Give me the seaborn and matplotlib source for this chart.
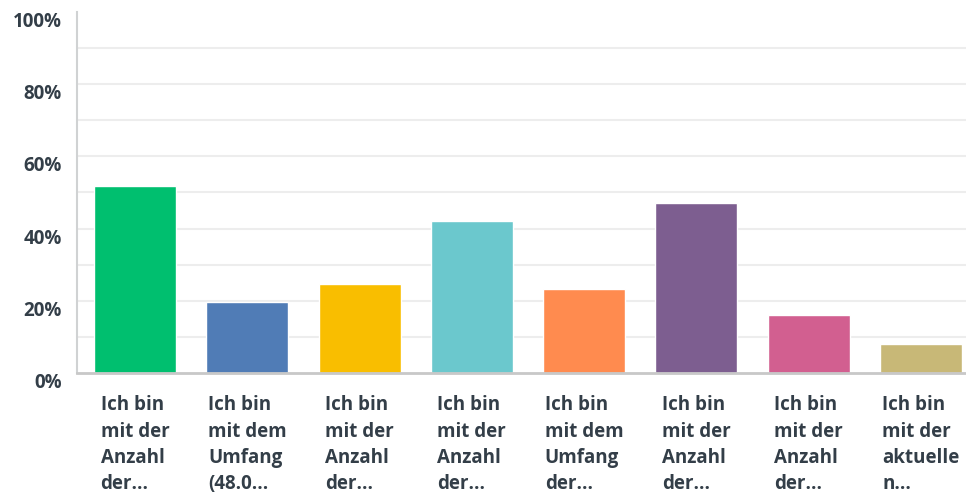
import numpy as np
import pandas as pd
import seaborn as sns
import matplotlib.pyplot as plt

# Survey answers (truncated labels as shown) and share of respondents in %
labels = [
    "Ich bin\nmit der\nAnzahl\nder...",
    "Ich bin\nmit dem\nUmfang\n(48.0...",
    "Ich bin\nmit der\nAnzahl\nder...",
    "Ich bin\nmit der\nAnzahl\nder...",
    "Ich bin\nmit dem\nUmfang\nder...",
    "Ich bin\nmit der\nAnzahl\nder...",
    "Ich bin\nmit der\nAnzahl\nder...",
    "Ich bin\nmit der\naktuelle\nn...",
]
values = [51.9, 19.7, 24.7, 42.2, 23.3, 47.2, 16.1, 8.1]
colors = ['#00BF6F', '#507CB6', '#F9BE00', '#6BC8CD',
          '#FF8B4F', '#7D5E90', '#D25F90', '#C8B877']
yticks = [0, 20, 40, 60, 80, 100]

TEXT = '#333E48'

sns.set_style('white')
plt.rcParams['font.family'] = ['Open Sans', 'DejaVu Sans']

df = pd.DataFrame({'pos': [str(i) for i in range(len(values))], 'value': values})

fig = plt.figure(figsize=(9.66, 4.94), dpi=100)
ax = fig.add_axes([77 / 966, 121 / 494, 889 / 966, 361 / 494])

sns.barplot(data=df, x='pos', y='value', hue='pos', palette=colors,
            width=0.73, saturation=1, legend=False, ax=ax, zorder=3)

# light grid every 10 %
for y in range(10, 100, 10):
    ax.axhline(y, color='#EDEDED', lw=1.5, zorder=1)

ax.set_xlim(-0.516, 7.40)
ax.set_ylim(0, 100)
ax.set_yticks(yticks)
ax.set_yticklabels([f'{t}%' for t in yticks])
ax.set_xticks(range(len(labels)))
ax.set_xticklabels(labels, multialignment='left', linespacing=1.42)
ax.set_xlabel('')
ax.set_ylabel('')

ax.tick_params(axis='x', length=0, pad=16, labelsize=13.5, labelcolor=TEXT)
ax.tick_params(axis='y', length=0, pad=11, labelsize=13.5, labelcolor=TEXT)
for lab in ax.get_xticklabels() + ax.get_yticklabels():
    lab.set_fontweight('bold')
for lab in ax.get_yticklabels():
    lab.set_verticalalignment('top')

sns.despine(ax=ax, top=True, right=True)
ax.spines['left'].set_color('#D0D2D3')
ax.spines['left'].set_linewidth(1.5)
ax.spines['bottom'].set_color('#C8C8C8')
ax.spines['bottom'].set_linewidth(2)
ax.spines['bottom'].set_zorder(4)

fig.savefig('out.png', dpi=100)
